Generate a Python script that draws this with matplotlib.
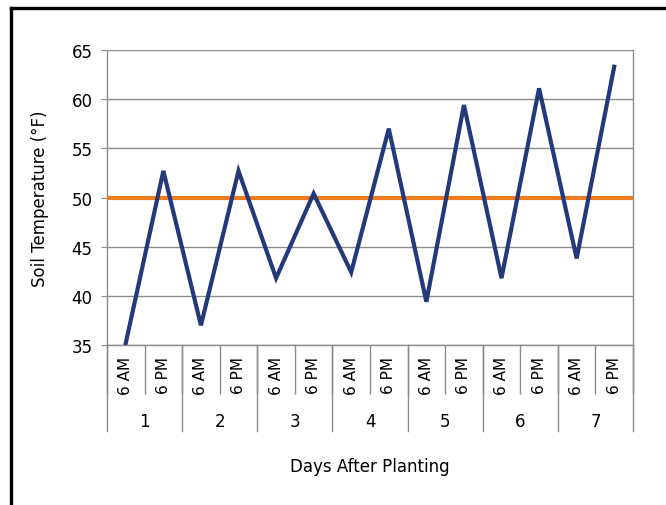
import matplotlib
matplotlib.use("Agg")
import matplotlib.pyplot as plt
from matplotlib.lines import Line2D

# data
dias = ["1", "2", "3", "4", "5", "6", "7"]
horas = ["6 AM", "6 PM"]
temperaturas = [35.2, 52.7, 37.0, 52.7, 41.8, 50.4, 42.4,
                57.0, 39.4, 59.4, 41.8, 61.1, 43.8, 63.3]
limite = 50
yticks = [35, 40, 45, 50, 55, 60, 65]

cor_linha = "#24397a"
cor_limite = "#ee7d22"
cinza = "#8c8c8c"

plt.rcParams["font.family"] = "DejaVu Sans"

fig = plt.figure(figsize=(6.66, 5.06), dpi=100)
ax = fig.add_axes([107 / 666, 1 - 346 / 506, (633 - 107) / 666, (346 - 51) / 506])

# moldura da figura (so topo e esquerda aparecem)
fig.add_artist(Line2D([11 / 666, 11 / 666], [0, 1 - 9 / 506], color="black", lw=2.4,
                      transform=fig.transFigure))
fig.add_artist(Line2D([11 / 666, 1], [1 - 9 / 506, 1 - 9 / 506], color="black", lw=2.4,
                      transform=fig.transFigure))

n = len(temperaturas)
x = list(range(n))

ax.set_ylim(35, 65)
ax.set_xlim(-0.5, n - 0.5)
ax.set_yticks(yticks)
ax.yaxis.grid(True, color=cinza, lw=1)
ax.set_axisbelow(True)

ax.axhline(limite, color=cor_limite, lw=3, zorder=3)
ax.plot(x, temperaturas, color=cor_linha, lw=3, zorder=4, solid_joinstyle="miter")

for s in ["left", "right", "bottom", "top"]:
    ax.spines[s].set_color(cinza)
    ax.spines[s].set_linewidth(1)
ax.spines["top"].set_visible(False)

ax.tick_params(axis="y", length=4.5, color=cinza, labelsize=12, pad=6)

# rotulos de hora
rotulos = [h for d in dias for h in horas]
ax.set_xticks(x)
ax.set_xticklabels(rotulos, rotation=90, fontsize=11)
ax.tick_params(axis="x", which="major", length=0, pad=8)
ax.set_xticks([i + 0.5 for i in range(-1, n)], minor=True)
ax.tick_params(axis="x", which="minor", length=35, color=cinza, width=1, direction="out")

# separadores e rotulos dos dias
trans = ax.get_xaxis_transform()
for k in range(len(dias) + 1):
    xb = 2 * k - 0.5
    ax.plot([xb, xb], [0, -0.292], color=cinza, lw=1, transform=trans, clip_on=False)
for k, d in enumerate(dias):
    ax.text(2 * k + 0.5, -0.258, d, transform=trans, ha="center", va="center", fontsize=12)

ax.text(0.5, -0.41, "Days After Planting", transform=ax.transAxes, ha="center",
        va="center", fontsize=12)
ax.set_ylabel("Soil Temperature (°F)", fontsize=12, labelpad=16)

fig.savefig("out.png", dpi=100)
